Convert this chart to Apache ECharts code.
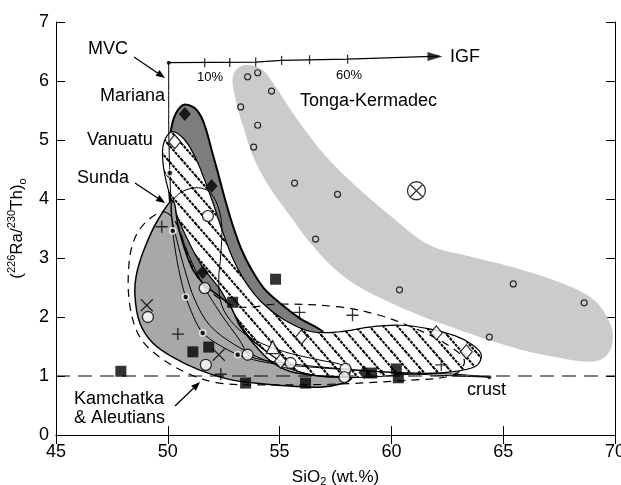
<!DOCTYPE html>
<html><head><meta charset="utf-8">
<script src="https://cdn.jsdelivr.net/npm/echarts@6/dist/echarts.min.js"></script>
<style>html,body{margin:0;padding:0;background:#fff}#c{width:621px;height:485px}</style>
</head><body><div id="c"></div>
<script>
// ---------- data (SiO2 wt.%, (226Ra/230Th)o) ----------
const tongaField = [[53.53,6.27],[54.20,6.20],[54.78,5.93],[55.36,5.59],[55.98,5.25],[57.01,4.75],[58.35,4.24],[59.91,3.73],[61.70,3.22],[63.48,3.03],[65.27,2.86],[67.5,2.59],[69.06,2.29],[69.82,1.86],[69.87,1.53],[69.51,1.31],[68.84,1.24],[67.5,1.31],[66.16,1.41],[64.6,1.58],[63.04,1.78],[61.25,2.03],[59.91,2.25],[58.35,2.56],[57.23,2.90],[56.34,3.27],[55.54,3.68],[54.64,4.15],[53.88,4.66],[53.35,5.25],[52.99,5.76],[52.90,6.05],[53.13,6.22]];
const marianaField = [[50.67,5.59],[51.12,5.56],[51.47,5.41],[51.74,5.14],[51.96,4.83],[52.23,4.46],[52.54,4.02],[52.90,3.56],[53.30,3.14],[53.75,2.80],[54.29,2.49],[55.00,2.24],[55.89,1.98],[56.96,1.73],[56.12,1.64],[55.00,1.68],[53.88,1.78],[52.77,1.98],[51.875,2.29],[51.21,2.63],[50.67,2.97],[50.27,3.44],[50.09,3.98],[50.04,4.49],[50.09,5.00],[50.27,5.37]];
const vanuatuField = [[50.18,5.14],[50.76,5.00],[51.25,4.69],[51.65,4.32],[52.05,3.90],[52.46,3.44],[52.90,3.00],[53.48,2.59],[54.20,2.25],[55.22,1.95],[56.43,1.75],[57.68,1.75],[59.02,1.83],[60.36,1.86],[61.70,1.80],[62.86,1.68],[63.62,1.53],[64.02,1.36],[63.79,1.17],[62.68,1.07],[60.80,1.03],[59.02,0.98],[57.23,0.98],[55.89,1.07],[54.8,1.31],[53.7,1.64],[53.0,2.03],[52.35,2.46],[51.50,2.88],[50.89,3.31],[50.40,3.73],[50.00,4.19],[49.78,4.63],[49.82,4.95]];
const sundaField = [[50.22,3.98],[50.45,3.56],[50.76,3.14],[51.12,2.80],[51.65,2.54],[52.23,2.37],[52.77,2.20],[53.21,1.86],[53.88,1.53],[54.55,1.27],[55.45,1.08],[56.79,1.00],[58.21,0.97],[57.90,0.88],[56.79,0.81],[55.45,0.83],[54.42,0.86],[52.90,0.93],[51.43,1.10],[50.22,1.32],[49.33,1.56],[48.75,1.90],[48.53,2.37],[48.62,2.76],[49.02,3.22],[49.55,3.64]];
const ovalField = [[50.18,3.93],[50.54,4.10],[51.21,4.19],[51.79,4.14],[52.19,3.93],[52.41,3.56],[52.37,3.05],[52.28,2.63],[52.41,2.20],[52.99,1.86],[53.88,1.61],[55.22,1.41],[56.79,1.27],[57.90,1.17],[58.13,1.02],[57.23,0.98],[55.89,1.07],[54.33,1.27],[52.99,1.53],[51.875,1.86],[51.21,2.29],[50.76,2.80],[50.40,3.31],[50.18,3.68]];
const kamchatkaField = [[49.87,3.78],[50.45,3.54],[50.80,3.14],[51.29,2.71],[52.10,2.37],[53.21,2.17],[55.00,2.22],[57.68,2.17],[59.46,2.03],[61.03,1.81],[62.37,1.56],[63.26,1.27],[62.81,1.02],[60.36,0.92],[57.23,0.86],[54.11,0.85],[52.32,0.88],[50.98,1.03],[49.64,1.32],[48.75,1.66],[48.30,2.20],[48.26,2.88],[48.53,3.34],[49.11,3.64]];
const crustLine = [[45,1],[70,1]];
const mixCurveA = [[50.04,6.31],[50.04,5.34],[50.09,4.44],[50.22,3.46],[50.45,2.88],[50.80,2.34],[51.56,1.73],[53.125,1.36],[54.55,1.22],[56.79,1.14],[59.55,1.07],[61.25,1.05],[62.90,1.03],[64.38,0.98]];
const mixCurveB = [[50.45,3.51],[51.07,2.93],[51.65,2.49],[52.41,2.03],[53.21,1.61],[53.66,1.34],[54.78,1.24],[57.23,1.14],[61.25,1.03],[64.38,0.98]];
const mixRingDots = [[50.09,4.44],[50.22,3.46],[50.80,2.34],[51.56,1.73],[53.125,1.36]];
const mixBlackDots = [[50.04,6.31],[59.55,1.07],[61.25,1.05],[62.90,1.03],[64.38,0.98]];
const igfLine = [[50.04,6.31],[53.93,6.32],[55.09,6.35],[58.04,6.37],[62.14,6.42]];
const igfTicks = [[51.65,6.31],[52.77,6.315],[53.93,6.32],[55.09,6.35],[56.34,6.36],[58.04,6.37]];
const igfArrow = [[61.95,6.415]];
const tongaPts = [[53.57,6.07],[54.02,6.14],[54.64,5.83],[53.26,5.56],[54.02,5.25],[53.84,4.88],[55.67,4.27],[57.59,4.08],[56.61,3.32],[60.36,2.46],[65.45,2.56],[68.62,2.24],[64.38,1.66]];
const circledX = [[61.12,4.14]];
const blackSquares = [[47.90,1.08],[51.12,1.41],[51.83,1.49],[52.90,2.25],[54.82,2.64],[53.48,0.88],[56.16,0.88],[59.11,1.05],[60.22,1.12],[60.31,0.97]];
const blackDiamonds = [[50.76,5.44],[51.96,4.22],[51.56,2.76],[58.79,1.06]];
const openDiamonds = [[50.31,4.97],[55.98,1.66],[55.04,1.25],[62.01,1.73],[63.35,1.41]];
const openCircles = [[51.79,3.71],[51.65,2.49],[49.11,2.00],[53.57,1.36],[51.70,1.19],[55.49,1.22],[57.95,1.12],[57.90,0.98]];
const crosses = [[49.06,2.20],[52.28,1.36]];
const pluses = [[49.73,3.53],[50.45,1.71],[52.37,1.03],[55.89,2.08],[58.26,2.03],[62.23,1.19]];
const triangles = [[54.69,1.49]];

// ---------- styles ----------
const FONT = '"Liberation Sans", Arial, Helvetica, sans-serif';
function makeHatch(){
  const W=14,H=16,c=document.createElement('canvas');c.width=W;c.height=H;
  const g=c.getContext('2d');g.fillStyle='#fff';g.fillRect(0,0,W,H);
  g.strokeStyle='#000';g.lineWidth=2.1;g.setLineDash([3,1]);
  for(let k=-1;k<=1;k++){g.beginPath();g.moveTo(k*W-W,-H);g.lineTo(k*W+2*W,2*H);g.stroke();}
  return {image:c,repeat:'repeat'};
}
const hatch = makeHatch();

let zc = 1;
function polySeries(pts, style, smooth){
  return {type:'custom',coordinateSystem:'cartesian2d',data:pts,encode:{x:0,y:1},silent:true,clip:true,z:zc++,
    renderItem:function(params,api){
      if(params.dataIndex!==0) return null;
      const points = pts.map(p=>api.coord(p));
      return {type:'polygon',shape:{points:points,smooth:smooth},style:style};
    }};
}
function scatter(data, symbol, size, item, extra){
  return Object.assign({type:'scatter',data:data,symbol:symbol,symbolSize:size,itemStyle:item,silent:true,z:zc++},extra||{});
}
const X_PATH='path://M0,0L10,10M10,0L0,10';
const P_PATH='path://M5,0L5,10M0,5L10,5';

const series = [
  polySeries(tongaField,{fill:'#cbcbcb'},0.35),
  polySeries(marianaField,{fill:'#7d7d7d',stroke:'#000',lineWidth:2},0.35),
  polySeries(vanuatuField,{fill:hatch,stroke:'#000',lineWidth:1.2},0.35),
  polySeries(sundaField,{fill:'#a8a8a8',stroke:'#000',lineWidth:1.5},0.3),
  polySeries(ovalField,{fill:'none',stroke:'#000',lineWidth:1},0.35),
  polySeries(kamchatkaField,{fill:'none',stroke:'#000',lineWidth:1.2,lineDash:[8,6]},0.35),
  {type:'line',data:crustLine,symbol:'none',silent:true,z:zc++,lineStyle:{color:'#000',width:1.2,type:[14,8]}},
  {type:'line',data:mixCurveA,symbol:'none',smooth:0.25,silent:true,z:zc++,lineStyle:{color:'#000',width:1}},
  {type:'line',data:mixCurveB,symbol:'none',smooth:0.25,silent:true,z:zc++,lineStyle:{color:'#000',width:1}},
  {type:'line',data:igfLine,symbol:'none',silent:true,z:zc++,lineStyle:{color:'#000',width:1.2}},
  scatter(igfTicks,'rect',[1.3,9],{color:'#000'}),
  scatter(igfArrow,'triangle',[9,15],{color:'#000'},{symbolRotate:-90}),
  scatter(mixRingDots,'circle',6,{color:'#000',borderColor:'#fff',borderWidth:1.6}),
  scatter(mixBlackDots,'circle',4,{color:'#000'}),
  scatter(tongaPts,'circle',6,{color:'none',borderColor:'#000',borderWidth:1.2}),
  scatter(circledX,'circle',18,{color:'none',borderColor:'#000',borderWidth:1.3}),
  scatter(circledX,X_PATH,12,{color:'none',borderColor:'#000',borderWidth:1.3}),
  scatter(blackSquares,'rect',11,{color:'#000'}),
  scatter(blackDiamonds,'diamond',[12,14],{color:'#000'}),
  scatter(openDiamonds,'diamond',[12,14],{color:'#fff',borderColor:'#000',borderWidth:1.2}),
  scatter(openCircles,'circle',11,{color:'#fff',borderColor:'#000',borderWidth:1.3}),
  scatter(crosses,X_PATH,12,{color:'none',borderColor:'#000',borderWidth:1.3}),
  scatter(pluses,P_PATH,12,{color:'none',borderColor:'#000',borderWidth:1.3}),
  scatter(triangles,'triangle',13,{color:'#fff',borderColor:'#000',borderWidth:1.3})
];

function arrow(x1,y1,x2,y2){
  const a=Math.atan2(y2-y1,x2-x1),L=9,w=3.5,c=Math.cos(a),s=Math.sin(a);
  const bx=x2-L*c,by=y2-L*s;
  return [
    {type:'line',shape:{x1:x1,y1:y1,x2:bx,y2:by},style:{stroke:'#000',lineWidth:1.3},z:100},
    {type:'polygon',shape:{points:[[x2,y2],[bx-w*s,by+w*c],[bx+w*s,by-w*c]]},style:{fill:'#000'},z:100}
  ];
}
function txt(t,x,y,size){
  return {type:'text',x:x,y:y,z:100,style:{text:t,font:(size||18)+'px '+FONT,fill:'#000',verticalAlign:'middle',align:'left'}};
}
const graphics = [
  txt('MVC',88,49),
  txt('Mariana',100,96),
  txt('Vanuatu',87,140),
  txt('Sunda',77,178),
  txt('Tonga-Kermadec',300,101),
  txt('IGF',450,57),
  txt('10%',197,77,13),
  txt('60%',336,75,13),
  txt('Kamchatka',74,399),
  txt('& Aleutians',74,418),
  txt('crust',467,390)
].concat(arrow(134,57,165,78), arrow(135,183,165,203), arrow(175,406,200,382));

const axisCommon = {type:'value',splitLine:{show:false},
  axisLine:{show:true,lineStyle:{color:'#000',width:1}},
  axisTick:{show:true,inside:true,length:9,lineStyle:{color:'#000',width:1}}};
const option = {
  animation:false,backgroundColor:'#fff',
  grid:{left:56,right:6,top:22,bottom:50,containLabel:false,outerBoundsMode:'none'},
  xAxis:[
    Object.assign({},axisCommon,{min:45,max:70,interval:5,position:'bottom',
      axisLabel:{color:'#000',fontSize:18,fontFamily:FONT,margin:8},
      name:'SiO{sub|2} (wt.%)',nameLocation:'middle',nameGap:30,
      nameTextStyle:{color:'#000',fontSize:17,fontFamily:FONT,lineHeight:22,
        rich:{sub:{fontSize:11,fontFamily:FONT,color:'#000',lineHeight:12,verticalAlign:'bottom'}}}}),
    Object.assign({},axisCommon,{min:45,max:70,interval:5,position:'top',axisLabel:{show:false}})
  ],
  yAxis:[
    Object.assign({},axisCommon,{min:0,max:7,interval:1,position:'left',
      axisLabel:{color:'#000',fontSize:18,fontFamily:FONT,margin:7},
      name:'({sup|226}Ra/{sup|230}Th){sub|o}',nameLocation:'middle',nameGap:22,nameRotate:90,
      nameTextStyle:{color:'#000',fontSize:17,fontFamily:FONT,lineHeight:22,
        rich:{sup:{fontSize:11,fontFamily:FONT,color:'#000',lineHeight:12,verticalAlign:'top'},
              sub:{fontSize:11,fontFamily:FONT,color:'#000',lineHeight:12,verticalAlign:'bottom'}}}}),
    Object.assign({},axisCommon,{min:0,max:7,interval:1,position:'right',axisLabel:{show:false}})
  ],
  series:series,
  graphic:graphics
};
const chart = echarts.init(document.getElementById('c'),null,{renderer:'canvas'});
chart.setOption(option);
</script></body></html>
